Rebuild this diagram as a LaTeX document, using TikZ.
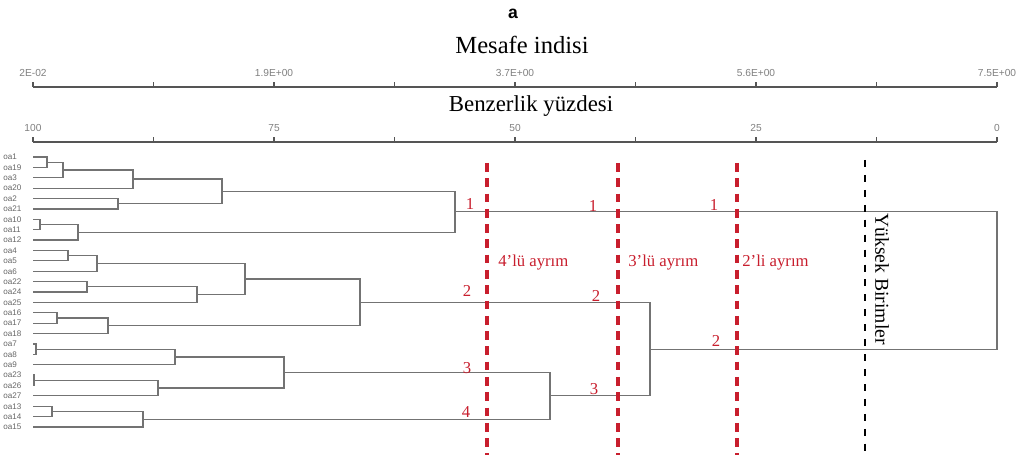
\documentclass[tikz,border=0pt]{standalone}
\usepackage{fontspec}
\setmainfont{Liberation Serif}
\setsansfont{Liberation Sans}
\usetikzlibrary{calc}

\definecolor{cutred}{RGB}{200,30,45}
\definecolor{treegray}{RGB}{115,115,115}
\definecolor{axisgray}{RGB}{85,85,85}

\tikzset{
  tree/.style={treegray,line width=0.7pt},
  scaleline/.style={axisgray,line width=1.1pt},
  ticklab/.style={font=\sffamily\fontsize{5.8}{6}\selectfont,text=gray,inner sep=0pt},
  leaflab/.style={font=\sffamily\fontsize{4.6}{5}\selectfont,text=gray!80!black,anchor=west,inner sep=0pt},
  cutline/.style={cutred,line width=2.3pt,dash pattern=on 5pt off 3.7pt},
  cutlab/.style={text=cutred,font=\fontsize{9.5}{11}\selectfont,inner sep=0pt},
  toptitle/.style={font=\fontsize{14}{16}\selectfont,inner sep=0pt},
}

% bracket joining #2 and #3 at x=#4, new point #1
\newcommand\joinpair[4]{%
  \path (#4,0) coordinate (jx);
  \draw[tree] (#2) -- (#2 -| jx) -- (#3 -| jx) -- (#3);
  \coordinate (#1) at ($(#2 -| jx)!.5!(#3 -| jx)$);
}

\begin{document}
\begin{tikzpicture}[x=0.02cm,y=-0.02cm]
  \useasboundingbox (0,0) rectangle (1017,455);

  % titles
  \node[font=\sffamily\bfseries\fontsize{10}{12}\selectfont,inner sep=0pt] (panel) at (513,14) {a};
  \node[toptitle] (dist) at (522,45) {Mesafe indisi};
  \node[font=\fontsize{13}{15}\selectfont,inner sep=0pt] (simil) at (531,106) {Benzerlik yüzdesi};

  % scales
  \draw[scaleline] (33,87) -- (997,87);
  \draw[scaleline] (33,142) -- (997,142);
  \foreach \k in {0,...,8} {
    \draw[scaleline] ({33+\k*120.5},87) -- ++(0,-5);
    \draw[scaleline] ({33+\k*120.5},142) -- ++(0,-5);
  }
  \foreach \v [count=\k from 0] in {2E-02,1.9E+00,3.7E+00,5.6E+00,7.5E+00}
    \node[ticklab] (d\k) at ({33+\k*241},73) {\v};
  \foreach \v [count=\k from 0] in {100,75,50,25,0}
    \node[ticklab] (p\k) at ({33+\k*241},128) {\v};

  % leaves
  \foreach \name [count=\i] in {oa1,oa19,oa3,oa20,oa2,oa21,oa10,oa11,oa12,oa4,oa5,oa6,oa22,oa24,oa25,oa16,oa17,oa18,oa7,oa8,oa9,oa23,oa26,oa27,oa13,oa14,oa15} {
    \coordinate (l\i) at (33,{157+(\i-1)*10.385});
    \node[leaflab] (n\i) at (3,{157+(\i-1)*10.385}) {\name};
  }

  % group 1
  \joinpair{m1}{l1}{l2}{47}
  \joinpair{m2}{m1}{l3}{63}
  \joinpair{m3}{m2}{l4}{133}
  \joinpair{m4}{l5}{l6}{118}
  \joinpair{m5}{m3}{m4}{222}
  \joinpair{m6}{l7}{l8}{40}
  \joinpair{m7}{m6}{l9}{78}
  \joinpair{m8}{m5}{m7}{455}
  % group 2
  \joinpair{m9}{l10}{l11}{68}
  \joinpair{m10}{m9}{l12}{97}
  \joinpair{m11}{l13}{l14}{87}
  \joinpair{m12}{m11}{l15}{197}
  \joinpair{m13}{m10}{m12}{245}
  \joinpair{m14}{l16}{l17}{57}
  \joinpair{m15}{m14}{l18}{108}
  \joinpair{m16}{m13}{m15}{360}
  % group 3
  \joinpair{m17}{l19}{l20}{36}
  \joinpair{m18}{m17}{l21}{175}
  \joinpair{m19}{l22}{l23}{34}
  \joinpair{m20}{m19}{l24}{158}
  \joinpair{m21}{m18}{m20}{284}
  % group 4
  \joinpair{m22}{l25}{l26}{52}
  \joinpair{m23}{m22}{l27}{143}
  % upper levels
  \joinpair{m24}{m21}{m23}{550}
  \joinpair{m25}{m16}{m24}{650}
  \joinpair{m26}{m8}{m25}{997}

  % cut lines
  \draw[cutline] (487,163) -- (487,455);
  \draw[cutline] (618,163) -- (618,455);
  \draw[cutline] (737,163) -- (737,455);
  \draw[black,line width=0.6pt,dash pattern=on 4pt off 4.5pt] (865,160) -- (865,455);

  \node[cutlab,anchor=west] (cut4) at (498,263) {4'lü ayrım};
  \node[cutlab,anchor=west] (cut3) at (628,263) {3'lü ayrım};
  \node[cutlab,anchor=west] (cut2) at (742,263) {2'li ayrım};

  \node[cutlab] (a1) at (470,204) {1};
  \node[cutlab] (a2) at (467,291) {2};
  \node[cutlab] (a3) at (467,368) {3};
  \node[cutlab] (a4) at (466,412) {4};
  \node[cutlab] (b1) at (593,206) {1};
  \node[cutlab] (b2) at (596,296) {2};
  \node[cutlab] (b3) at (594,389) {3};
  \node[cutlab] (c1) at (714,205) {1};
  \node[cutlab] (c2) at (716,341) {2};

  \node[font=\fontsize{11.2}{13}\selectfont,rotate=-90,inner sep=0pt] (high) at (882,279) {Yüksek Birimler};
\end{tikzpicture}
\end{document}
